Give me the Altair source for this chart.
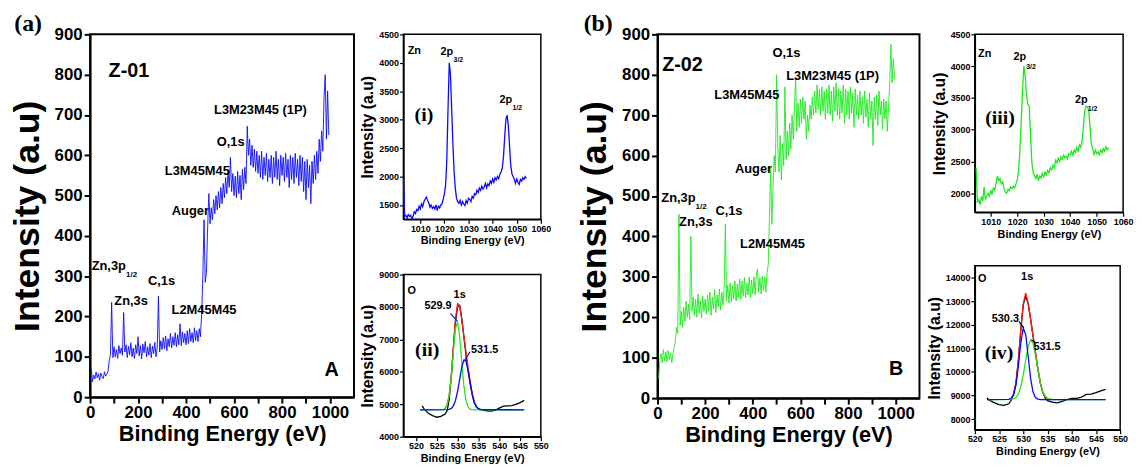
import altair as alt
import pandas as pd

SANS = "Liberation Sans, Arial, sans-serif"
WIDE = "Liberation Sans, Arial, sans-serif"
SERIF = "Liberation Serif, Times New Roman, serif"

BLUE = "#0a0aff"
GREEN = "#1ee81e"
RED = "#ff1a1a"

# ---------------- survey spectra (5 eV grid starting at 5 eV) ----------------
survey_a = [
    72, 38, 55, 45, 62, 48, 58, 42, 60, 50,
    46, 63, 52, 58, 64, 92, 105, 235, 98, 125,
    100, 118, 96, 128, 108, 122, 104, 210, 112, 130,
    98, 126, 105, 135, 100, 122, 96, 130, 108, 150,
    102, 128, 95, 132, 110, 138, 100, 125, 104, 133,
    98, 127, 108, 136, 100, 124, 250, 112, 140, 118,
    148, 120, 152, 115, 145, 125, 158, 122, 150, 128,
    160, 125, 155, 130, 182, 128, 162, 135, 158, 130,
    165, 133, 170, 138, 160, 135, 172, 140, 165, 138,
    170, 150, 205, 300, 440, 285, 310, 420, 505, 430,
    470, 440, 490, 455, 500, 465, 510, 470, 520, 480,
    530, 495, 545, 505, 560, 520, 595, 510, 555, 500,
    548, 495, 560, 505, 550, 490, 565, 515, 570, 530,
    672, 600, 640, 575, 625, 570, 615, 560, 610, 555,
    600, 545, 610, 540, 595, 550, 605, 535, 590, 545,
    600, 530, 595, 545, 610, 540, 590, 525, 600, 550,
    595, 535, 605, 545, 590, 520, 600, 540, 595, 530,
    605, 545, 590, 525, 600, 535, 595, 510, 585, 490,
    590, 520, 575, 480, 585, 530, 600, 540, 610, 555,
    640, 585, 660, 610, 740, 800, 640, 760, 650,
]
survey_b = [
    50, 95, 110, 88, 120, 92, 115, 90, 118, 95,
    112, 88, 110, 125, 140, 175, 160, 455, 180, 215,
    175, 225, 190, 240, 200, 232, 195, 400, 215, 250,
    205, 245, 200, 258, 210, 240, 198, 252, 215, 245,
    208, 255, 215, 262, 205, 250, 220, 268, 212, 255,
    225, 270, 218, 262, 230, 275, 430, 240, 280, 235,
    285, 238, 278, 245, 290, 240, 282, 250, 295, 245,
    290, 252, 298, 248, 285, 255, 300, 250, 292, 258,
    300, 255, 305, 320, 262, 298, 258, 302, 265, 300,
    262, 310, 330, 450, 570, 430, 520, 600, 560, 800,
    620, 560, 650, 540, 630, 575, 770, 590, 660, 600,
    680, 615, 700, 640, 720, 790, 660, 730, 670, 740,
    680, 745, 690, 735, 640, 700, 660, 725, 690, 745,
    700, 760, 705, 775, 715, 765, 700, 770, 710, 760,
    690, 765, 705, 775, 700, 760, 685, 770, 710, 780,
    700, 765, 690, 760, 705, 775, 680, 765, 700, 760,
    690, 770, 705, 755, 670, 765, 700, 750, 690, 760,
    700, 745, 680, 760, 695, 740, 670, 755, 690, 735,
    625, 745, 690, 750, 675, 760, 700, 735, 665, 740,
    690, 735, 660, 720, 780, 875, 780, 840, 790,
]
survey_E_a = [5 * (i + 1) for i in range(len(survey_a))]
survey_E_b = [5 * (i + 1) for i in range(len(survey_b))]

# survey annotations
labA_t = ["Z-01", "L3M23M45 (1P)", "O,1s", "L3M45M45", "Auger", "Zn,3p", "Zn,3s", "C,1s", "L2M45M45", "A"]
labA_E = [162, 710, 586, 447, 418, 78, 171, 298, 475, 1007]
labA_I = [809, 712, 633, 560, 462, 326, 238, 287, 217, 66]
labA_fs = [20, 13, 13, 13, 13, 13, 13, 13, 13, 20]
subA_t, subA_E, subA_I = ["1/2"], [150], [303]
panelA_t, panelA_E, panelA_I = ["(a)"], [-258], [925]

labB_t = ["Z-02", "O,1s", "L3M23M45 (1P)", "L3M45M45", "Auger", "Zn,3p", "Zn,3s", "C,1s", "L2M45M45", "B"]
labB_E = [105, 541, 735, 375, 403, 88, 161, 300, 483, 1002]
labB_I = [825, 853, 797, 751, 567, 495, 435, 462, 382, 72]
labB_fs = [20, 13, 13, 13, 13, 13, 13, 13, 13, 20]
subB_t, subB_E, subB_I = ["1/2"], [160], [472]
panelB_t, panelB_E, panelB_I = ["(b)"], [-249], [925]

# ---------------- Zn 2p insets (0.5 eV grid) ----------------
zn_a_start = 1003.0
zn_a = [
    1950, 1300, 1320, 1270, 1330, 1300, 1320, 1260, 1300, 1380,
    1350, 1420, 1400, 1480, 1430, 1520, 1470, 1560, 1600, 1640,
    1580, 1540, 1460, 1500, 1440, 1470, 1430, 1500, 1400, 1480,
    1450, 1500, 1520, 1600, 1700, 1850, 2300, 3200, 4000, 3800,
    3200, 2600, 2100, 1800, 1620, 1560, 1530, 1580, 1500, 1560,
    1520, 1490, 1580, 1530, 1620, 1600, 1560, 1650, 1620, 1700,
    1680, 1760, 1720, 1800, 1760, 1830, 1780, 1820, 1880, 1800,
    1870, 1840, 1920, 1880, 1960, 1900, 1980, 1940, 2000, 1960,
    2040, 2080, 2150, 2350, 2700, 3000, 3080, 2900, 2550, 2200,
    2050, 2000, 1950, 1880, 1960, 1900, 1860, 1950, 1920, 1980,
    1950, 2000, 1970,
]
zn_b_start = 1004.5
zn_b = [
    2400, 1850, 1900, 1820, 1950, 1880, 2100, 1900, 1960, 2000,
    1950, 2050, 1980, 2080, 2050, 2150, 2270, 2200, 2230, 2150,
    2180, 2080, 2020, 2000, 2060, 2040, 2100, 2070, 2110, 2080,
    2140, 2200, 2350, 2650, 3100, 3600, 4000, 3850, 3550, 3400,
    3380, 2950, 2500, 2330, 2280, 2230, 2300, 2200, 2270, 2240,
    2310, 2260, 2330, 2290, 2360, 2320, 2400, 2370, 2440, 2400,
    2520, 2480, 2550, 2500, 2570, 2530, 2600, 2560, 2580, 2540,
    2620, 2600, 2660, 2600, 2680, 2640, 2720, 2660, 2760, 2720,
    2820, 3050, 3300, 3370, 3360, 3300, 3050, 2780, 2700, 2600,
    2680, 2620, 2650, 2600, 2680, 2640, 2700, 2660, 2730, 2680,
    2720,
]
zn_a_E = [zn_a_start + 0.5 * i for i in range(len(zn_a))]
zn_b_E = [zn_b_start + 0.5 * i for i in range(len(zn_b))]

# ---------------- O 1s insets ----------------
o_a_raw_E = [521.5, 522, 523, 524, 525, 526, 527, 527.5, 528, 528.5, 529, 529.5, 530, 530.5, 531, 531.5,
             532, 532.5, 533, 533.5, 534, 534.5, 535, 536, 537, 538, 539, 540, 541, 542, 543, 544, 545, 546]
o_a_raw_I = [4950, 4850, 4720, 4650, 4600, 4630, 4700, 4800, 5150, 5850, 6750, 7550, 8000, 8050, 7650, 7100,
             6550, 6050, 5650, 5300, 5050, 4920, 4860, 4820, 4800, 4790, 4810, 4880, 4940, 4950, 4960, 5000, 5050, 5120]
o_a_g_E = [521, 526.5, 527, 527.5, 528, 528.5, 529, 529.5, 530, 530.5, 531, 531.5, 532, 532.5, 533, 533.5, 534, 546]
o_a_g_I = [4830, 4838, 4871, 4982, 5277, 5851, 6644, 7341, 7536, 7102, 6315, 5586, 5130, 4923, 4852, 4835, 4830, 4830]
o_a_b_E = [521, 527.5, 528, 528.5, 529, 529.5, 530, 530.5, 531, 531.5, 532, 532.5, 533, 533.5, 534, 534.5, 535, 535.5, 536, 546]
o_a_b_I = [4830, 4833, 4843, 4874, 4953, 5118, 5399, 5770, 6138, 6359, 6332, 6071, 5692, 5333, 5077, 4932, 4865, 4840, 4833, 4830]
o_a_r_E = [527, 527.5, 528, 528.5, 529, 529.5, 530, 530.5, 531, 531.5, 532, 532.5, 533, 533.5, 534]
o_a_r_I = [4872, 4985, 5290, 5895, 6767, 7629, 8105, 8042, 7623, 7115, 6632, 6164, 5714, 5338, 5077]

o_b_raw_E = [522.5, 523, 524, 525, 526, 527, 527.5, 528, 528.5, 529, 529.5, 530, 530.5, 531, 531.5, 532, 532.5,
             533, 533.5, 534, 534.5, 535, 536, 537, 538, 539, 540, 541, 542, 543, 544, 545, 546, 547]
o_b_raw_I = [8900, 8800, 8700, 8620, 8580, 8650, 8800, 9050, 9550, 10500, 11800, 12850, 13200, 12900, 12250, 11550, 10850,
             10150, 9550, 9150, 8900, 8780, 8720, 8690, 8750, 8830, 8880, 8880, 8930, 9050, 9060, 9120, 9200, 9260]
o_b_b_E = [522.5, 527, 527.5, 528, 528.5, 529, 529.5, 530, 530.5, 531, 531.5, 532, 532.5, 533, 533.5, 547]
o_b_b_I = [8830, 8838, 8877, 9030, 9456, 10271, 11265, 11852, 11584, 10675, 9736, 9158, 8917, 8847, 8832, 8830]
o_b_g_E = [522.5, 527.5, 528, 528.5, 529, 529.5, 530, 530.5, 531, 531.5, 532, 532.5, 533, 533.5, 534, 534.5, 535, 535.5, 536, 547]
o_b_g_I = [8830, 8837, 8858, 8920, 9073, 9379, 9874, 10499, 11071, 11361, 11233, 10748, 10115, 9556, 9173, 8967, 8876, 8843, 8833, 8830]
o_b_r_E = [527.5, 528, 528.5, 529, 529.5, 530, 530.5, 531, 531.5, 532, 532.5, 533, 533.5, 534, 534.5, 535]
o_b_r_I = [8884, 9058, 9546, 10514, 11814, 12896, 13350, 12916, 12267, 11561, 10835, 10132, 9558, 9173, 8967, 8876]

# inset annotations
i_lab = {"t": ["Zn", "2p", "2p"], "E": [1007.5, 1021, 1045.5], "I": [4210, 4190, 3350]}
i_sub = {"t": ["3/2", "1/2"], "E": [1023.8, 1048.2], "I": [4040, 3210]}
i_tag = {"t": ["(i)"], "E": [1011.5], "I": [3080]}

ii_lab = {"t": ["O", "1s", "529.9", "531.5"], "E": [519, 530.5, 525.3, 536.5], "I": [8500, 8380, 8030, 6680]}
ii_tag = {"t": ["(ii)"], "E": [522.7], "I": [6680]}
ii_rule = {"E": [528.3, 533.0], "I": [7797, 6614], "E2": [530.0, 531.6], "I2": [7559, 6336]}

iii_lab = {"t": ["Zn", "2p", "2p"], "E": [1007.7, 1021, 1044.2], "I": [4190, 4150, 3460]}
iii_sub = {"t": ["3/2", "1/2"], "E": [1023.4, 1046.6], "I": [3990, 3320]}
iii_tag = {"t": ["(iii)"], "E": [1013.5], "I": [3190]}

iv_lab = {"t": ["O", "1s", "530.3", "531.5"], "E": [521.5, 530.8, 526.3, 534.9], "I": [13950, 14000, 12250, 11070]}
iv_tag = {"t": ["(iv)"], "E": [525], "I": [10800]}
iv_rule = {"E": [529.1, 532.4], "I": [12140, 11250], "E2": [530.1, 531.7], "I2": [11870, 11370]}


def sc(dom):
    return alt.Scale(domain=dom, nice=False, zero=False)


def text_layer(d, xs, ys, xa, ya, font, size, align="center"):
    df = pd.DataFrame(d)
    return alt.Chart(df).mark_text(font=font, fontSize=size, fontWeight="bold", color="black",
                                   align=align, baseline="middle").encode(
        x=alt.X("E:Q", scale=xs, axis=xa),
        y=alt.Y("I:Q", scale=ys, axis=ya),
        text="t:N",
    )


def main_panel(E, I, color, lt, lE, lI, lfs, st, sE, sI, pt, pE, pI, w, h):
    xs, ys = sc([0, 1100]), sc([0, 900])
    xa = alt.Axis(values=list(range(0, 1001, 100)), format="d",
                  labelExpr="datum.value % 200 == 0 ? datum.label : ''",
                  title="Binding Energy (eV)", titleFont=SANS, titleFontSize=22, titleFontWeight="bold",
                  titleColor="black", titlePadding=3,
                  labelFont=SANS, labelFontSize=17, labelFontWeight="bold", labelColor="black",
                  labelPadding=2, labelFlush=False, labelOverlap=False,
                  domainColor="black", domainWidth=2, tickColor="black", tickWidth=2, tickSize=6, grid=False)
    ya = alt.Axis(values=list(range(0, 901, 100)), format="d",
                  title="Intensity (a.u)", titleFont=WIDE, titleFontSize=36, titleFontWeight="bold",
                  titleColor="black", titlePadding=8,
                  labelFont=SANS, labelFontSize=17, labelFontWeight="bold", labelColor="black",
                  labelPadding=2, labelFlush=False, labelOverlap=False,
                  domainColor="black", domainWidth=2, tickColor="black", tickWidth=2, tickSize=6, grid=False)
    line = alt.Chart(pd.DataFrame({"E": E, "I": I})).mark_line(color=color, strokeWidth=0.9).encode(
        x=alt.X("E:Q", scale=xs, axis=xa), y=alt.Y("I:Q", scale=ys, axis=ya))
    labs = alt.Chart(pd.DataFrame({"t": lt, "E": lE, "I": lI, "fs": lfs})).mark_text(
        font=SANS, fontWeight="bold", color="black", align="center", baseline="middle").encode(
        x=alt.X("E:Q", scale=xs, axis=xa), y=alt.Y("I:Q", scale=ys, axis=ya), text="t:N",
        size=alt.Size("fs:Q", scale=None, legend=None))
    subs = text_layer({"t": st, "E": sE, "I": sI}, xs, ys, xa, ya, SANS, 8, align="left")
    panel = text_layer({"t": pt, "E": pE, "I": pI}, xs, ys, xa, ya, SERIF, 24)
    return alt.layer(line, labs, subs, panel).properties(
        width=w, height=h,
        view=alt.ViewBackground(stroke="black", strokeWidth=2))


def inset(curves, lab, sub, tag, rule, rule_color, xdom, xvals, ydom, yvals, w, h):
    xs, ys = sc(xdom), sc(ydom)
    xa = alt.Axis(values=xvals, format="d", title="Binding Energy (eV)", titleFont=SANS, titleFontSize=11,
                  titleFontWeight="bold", titleColor="black", titlePadding=2,
                  labelFont=SANS, labelFontSize=9, labelFontWeight="bold", labelColor="black",
                  labelPadding=1, labelFlush=False, labelOverlap=False,
                  domainColor="black", domainWidth=1.5, tickColor="black", tickWidth=1.2, tickSize=4, grid=False)
    ya = alt.Axis(values=yvals, format="d", title="Intensity (a.u)", titleFont=WIDE, titleFontSize=16,
                  titleFontWeight="bold", titleColor="black", titlePadding=3,
                  labelFont=SANS, labelFontSize=9, labelFontWeight="bold", labelColor="black",
                  labelPadding=1, labelFlush=False, labelOverlap=False,
                  domainColor="black", domainWidth=1.5, tickColor="black", tickWidth=1.2, tickSize=4, grid=False)
    layers = []
    for E, I, color in curves:
        layers.append(alt.Chart(pd.DataFrame({"E": E, "I": I})).mark_line(color=color, strokeWidth=1.3).encode(
            x=alt.X("E:Q", scale=xs, axis=xa), y=alt.Y("I:Q", scale=ys, axis=ya)))
    if rule is not None:
        layers.append(alt.Chart(pd.DataFrame(rule)).mark_rule(color=rule_color, strokeWidth=1.2).encode(
            x=alt.X("E:Q", scale=xs, axis=xa), y=alt.Y("I:Q", scale=ys, axis=ya),
            x2="E2:Q", y2="I2:Q"))
    layers.append(text_layer(lab, xs, ys, xa, ya, SANS, 11))
    if sub is not None:
        layers.append(text_layer(sub, xs, ys, xa, ya, SANS, 7, align="left"))
    layers.append(text_layer(tag, xs, ys, xa, ya, SERIF, 20))
    return alt.layer(*layers).properties(
        width=w, height=h,
        view=alt.ViewBackground(stroke="black", strokeWidth=1.5))


main_a = main_panel(survey_E_a, survey_a, BLUE, labA_t, labA_E, labA_I, labA_fs,
                    subA_t, subA_E, subA_I, panelA_t, panelA_E, panelA_I, 267, 367)
main_b = main_panel(survey_E_b, survey_b, GREEN, labB_t, labB_E, labB_I, labB_fs,
                    subB_t, subB_E, subB_I, panelB_t, panelB_E, panelB_I, 265, 368)

ins_i = inset([(zn_a_E, zn_a, BLUE)], i_lab, i_sub, i_tag, None, None,
              [1003, 1060], list(range(1010, 1061, 10)), [1250, 4500], list(range(1500, 4501, 500)), 139, 187)
ins_ii = inset([(o_a_raw_E, o_a_raw_I, "black"), (o_a_r_E, o_a_r_I, RED), (o_a_g_E, o_a_g_I, GREEN),
                (o_a_b_E, o_a_b_I, BLUE)], ii_lab, None, ii_tag, ii_rule, BLUE,
               [517, 550], list(range(520, 551, 5)), [4000, 9000], list(range(4000, 9001, 1000)), 139, 164)
ins_iii = inset([(zn_b_E, zn_b, GREEN)], iii_lab, iii_sub, iii_tag, None, None,
                [1004, 1060], list(range(1010, 1061, 10)), [1700, 4500], list(range(2000, 4501, 500)), 150, 180)
ins_iv = inset([(o_b_raw_E, o_b_raw_I, "black"), (o_b_r_E, o_b_r_I, RED), (o_b_g_E, o_b_g_I, GREEN),
                (o_b_b_E, o_b_b_I, BLUE)], iv_lab, None, iv_tag, iv_rule, "black",
               [520, 550], list(range(520, 551, 5)), [7550, 14500], list(range(8000, 14001, 1000)), 147, 166)

left = alt.hconcat(main_a, alt.vconcat(ins_i, ins_ii, spacing=23), spacing=4)
right = alt.hconcat(main_b, alt.vconcat(ins_iii, ins_iv, spacing=25), spacing=5)
chart = alt.hconcat(left, right, spacing=24).properties(padding=0, background="white")
chart = chart.configure_view(stroke="black", strokeWidth=2)

chart.save("out.html", embed_options={"renderer": "svg", "actions": False})
